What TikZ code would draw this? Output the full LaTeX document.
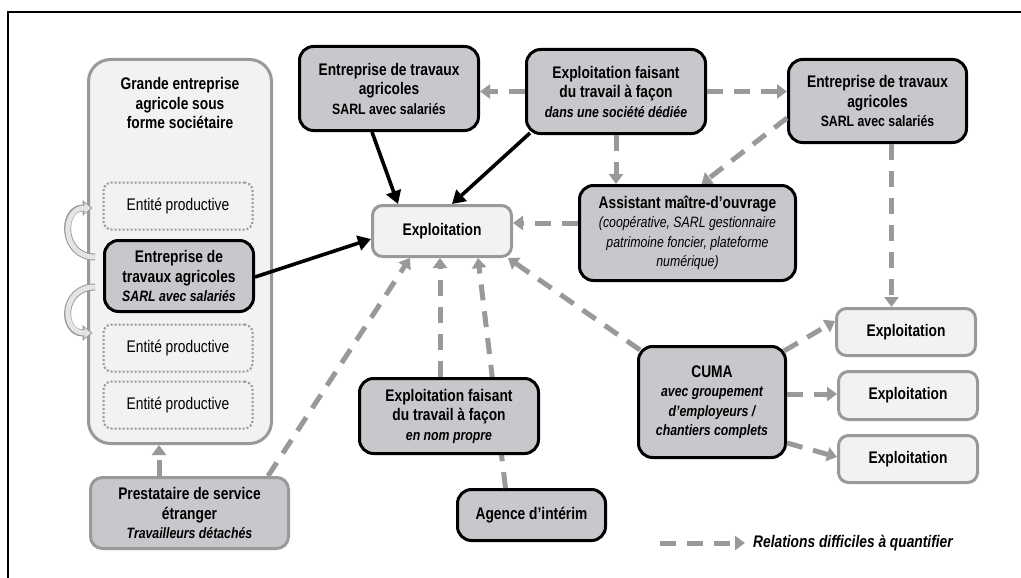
\documentclass[tikz,border=0pt]{standalone}
\usepackage{fontspec}
\setmainfont{Liberation Sans}[FakeStretch=0.82]
\usetikzlibrary{arrows.meta}
\definecolor{boxgray}{RGB}{200,200,204}
\definecolor{palegray}{RGB}{242,242,242}
\definecolor{linegray}{RGB}{153,153,153}
\definecolor{curlgray}{RGB}{228,228,228}
\newcommand*{\txtbig}{\fontsize{16.8}{19.5}\selectfont}
\newcommand*{\txtsml}{\fontsize{15}{18.5}\selectfont}
\newcommand*{\subit}[1]{{\txtsml\itshape #1}}
\newcommand*{\submd}[1]{{\txtsml\mdseries\itshape #1}}
\newcommand*{\curlarrow}[2]{%
    \draw[curlout] #1 .. controls +(-34,0) and +(-32,0) .. #2;
    \draw[curlin]  #1 .. controls +(-34,0) and +(-32,0) .. #2;}

\begin{document}
\begin{tikzpicture}[x=1pt, y=-1pt,
    darkbox/.style  = {draw=black, line width=3pt, fill=boxgray, rounded corners=14pt, align=center, inner sep=0pt, font=\txtbig\bfseries},
    greybox/.style  = {darkbox, draw=linegray, rounded corners=12pt},
    lightbox/.style = {draw=linegray, line width=3pt, fill=palegray, rounded corners=10pt, align=center, inner sep=0pt, font=\txtbig\bfseries},
    bigbox/.style   = {draw=linegray, line width=3pt, fill=palegray, rounded corners=22pt, inner sep=0pt},
    entity/.style   = {draw=linegray, line width=2pt, dash pattern=on 2pt off 2pt, fill=palegray, rounded corners=8pt, inner sep=0pt, font=\txtbig, minimum width=149pt, minimum height=47pt},
    solidarr/.style = {line width=3.6pt, -{Triangle[length=13pt,width=15pt]}},
    dasharr/.style  = {draw=linegray, line width=5pt, dash pattern=on 16pt off 11pt, -{Triangle[length=10pt,width=14pt]}},
    curlout/.style  = {draw=linegray, line width=7pt, -{Triangle[length=10pt,width=15pt]}},
    curlin/.style   = {draw=curlgray, line width=5pt, shorten >=1.7pt, -{Triangle[length=6.5pt,width=10.5pt]}}]
    \useasboundingbox (0,0) rectangle (1021,578);
    \draw [line width=1.3pt] (8,578) -- (8,12) -- (1021,12);

    % grande entreprise
    \node [bigbox, minimum width=183pt, minimum height=384pt] (grande) at (180,251.5) {};
    \node [font=\txtbig\bfseries, align=center] (grandetxt) at (180,103) {Grande entreprise\\agricole sous\\forme sociétaire};
    \node [entity] (ent1) at (178,206) {Entité productive};
    \node [darkbox, minimum width=149pt, minimum height=71pt] (eta2) at (179,276) {Entreprise de\\travaux agricoles\\\subit{SARL avec salariés}};
    \node [entity] (ent2) at (178,348) {Entité productive};
    \node [entity] (ent3) at (178,405) {Entité productive};
    \curlarrow{([xshift=-8pt,yshift=-18pt]eta2.north west)}{([xshift=-10pt,yshift=-2pt]ent1.west)}
    \curlarrow{([xshift=-8pt,yshift=26pt]eta2.south west)}{([xshift=-10pt,yshift=15pt]ent2.west)}
    \node [greybox, minimum width=198pt, minimum height=71pt] (prest) at (189.5,513) {Prestataire de service\\étranger\\\subit{Travailleurs détachés}};

    % haut
    \node [darkbox, minimum width=179pt, minimum height=84pt] (eta1) at (389,88.5) {Entreprise de travaux\\agricoles\\{\txtsml SARL avec salariés}};
    \node [darkbox, minimum width=179pt, minimum height=84pt] (faconsoc) at (616,91.5) {Exploitation faisant\\du travail à façon\\\subit{dans une société dédiée}};
    \node [darkbox, minimum width=178pt, minimum height=83pt] (eta3) at (877.5,101) {Entreprise de travaux\\agricoles\\{\txtsml SARL avec salariés}};
    \node [darkbox, minimum width=216pt, minimum height=95pt] (amo) at (687.5,233) {Assistant maître-d’ouvrage\\\submd{(coopérative, SARL gestionnaire}\\\submd{patrimoine foncier, plateforme}\\\submd{numérique)}};
    \node [lightbox, minimum width=139pt, minimum height=51pt] (expl) at (442,231) {Exploitation};

    % bas
    \node [darkbox, minimum width=148pt, minimum height=51pt] (agence) at (531.5,515) {Agence d’intérim};
    \node [darkbox, minimum width=147pt, minimum height=111pt] (cuma) at (712,402) {CUMA\\\subit{avec groupement}\\\subit{d’employeurs /}\\\subit{chantiers complets}};
    \node [lightbox, minimum width=139pt, minimum height=47pt] (expl1) at (906,332) {Exploitation};
    \node [lightbox, minimum width=139pt, minimum height=48pt] (expl2) at (908,395.5) {Exploitation};
    \node [lightbox, minimum width=139pt, minimum height=47pt] (expl3) at (908,459) {Exploitation};

    \draw [solidarr] ([xshift=-17pt]eta1.south) -- ([xshift=-44pt]expl.north);
    \draw [solidarr] ([xshift=5pt,yshift=2pt]faconsoc.south west) -- ([xshift=10pt]expl.north);
    \draw [solidarr] ([yshift=-1pt]eta2.east) -- ([yshift=-8pt]expl.west);

    \draw [dasharr] (faconsoc.west) -- (faconsoc.west -| eta1.east);
    \draw [dasharr] (faconsoc.east) -- (faconsoc.east -| eta3.west);
    \draw [dasharr] (faconsoc.south) -- (faconsoc.south |- amo.north);
    \draw [dasharr] ([yshift=-17pt]eta3.west) -- ([xshift=14pt]amo.north);
    \draw [dasharr] ([yshift=10pt]amo.west) -- ([yshift=10pt]amo.west -| expl.east);
    \draw [dasharr] ([xshift=14pt]eta3.south) -- ([xshift=14pt]eta3.south |- expl1.north);
    \draw [dasharr] ([shift={(-3pt,-6pt)}]cuma.north east) -- ([yshift=11pt]expl1.west);
    \draw [dasharr] ([yshift=8pt]cuma.east) -- ([yshift=8pt]cuma.east -| expl2.west);
    \draw [dasharr] ([yshift=-41pt]cuma.east) -- ([yshift=2pt]expl3.west);
    \draw [dasharr] ([shift={(3pt,-5pt)}]cuma.north west) -- ([xshift=-5pt]expl.south east);
    \draw [dasharr] ([xshift=-26pt]agence.north) -- ([xshift=36pt]expl.south);
    \draw [dasharr] ([xshift=-22pt]prest.north east) -- ([xshift=-32pt]expl.south);
    \draw [dasharr] ([xshift=-30.5pt]prest.north) -- ([xshift=-30.5pt]prest.north |- grande.south);
    \node [darkbox, minimum width=179pt, minimum height=75pt] (faconnp) at (449,416) {Exploitation faisant\\du travail à façon\\\subit{en nom propre}};
    \draw [dasharr] ([xshift=-9pt]faconnp.north) -- ([xshift=-2pt]expl.south);

    % legende
    \coordinate (legstart) at (660,543);
    \node [anchor=west, inner sep=0pt, font=\txtbig\bfseries\itshape] (legtext) at (753,543) {Relations difficiles à quantifier};
    \draw [dasharr] (legstart) -- ([xshift=-8pt]legtext.west);
\end{tikzpicture}
\end{document}
